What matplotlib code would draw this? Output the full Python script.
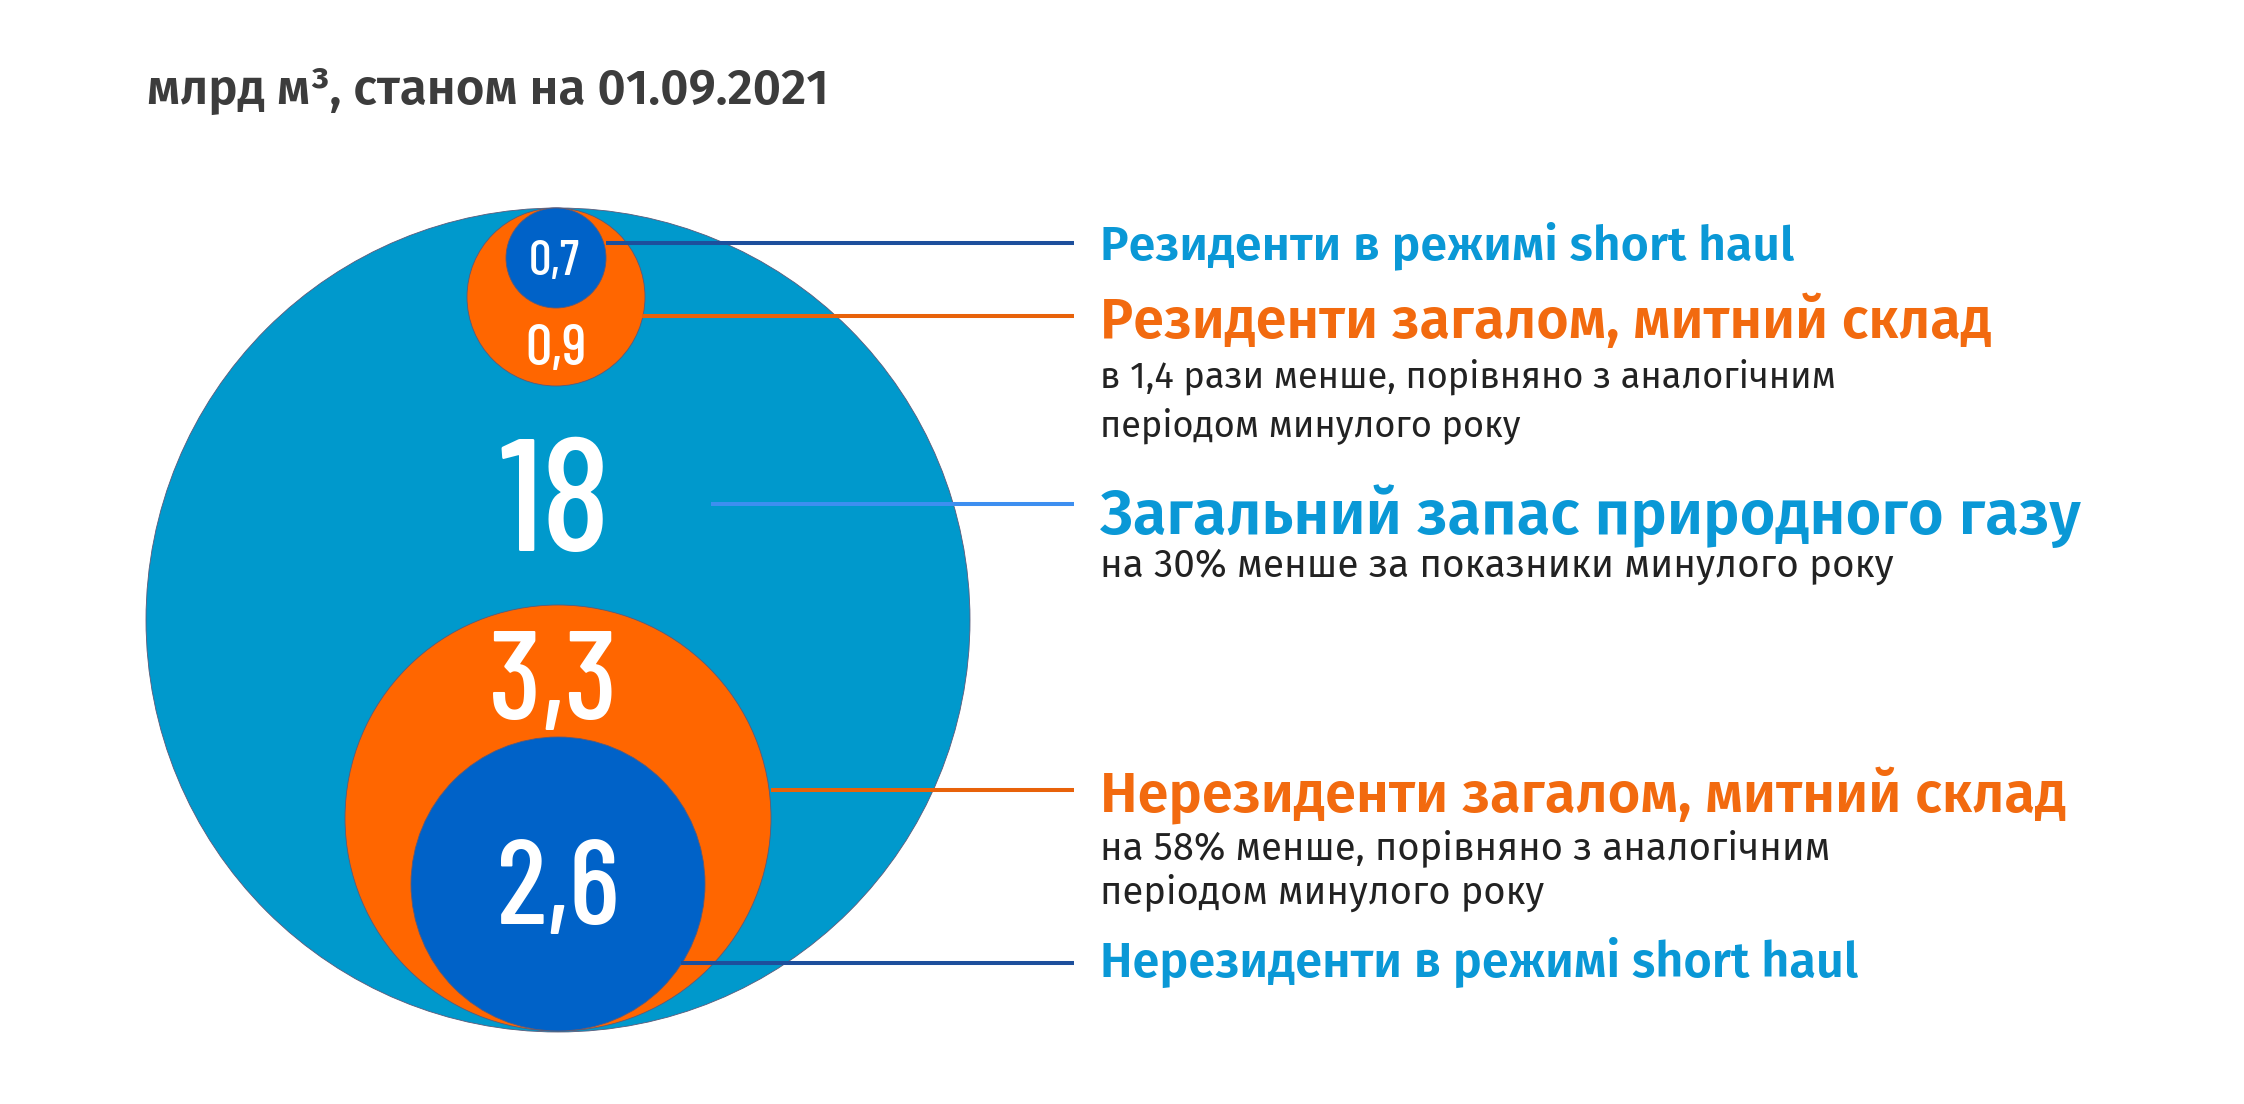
import matplotlib
matplotlib.use("Agg")
import matplotlib.pyplot as plt
from matplotlib.patches import Circle

# =========================
# data
# =========================
title = "млрд м³, станом на 01.09.2021"

values = [0.7, 0.9, 18, 3.3, 2.6]
value_labels = ["0,7", "0,9", "18", "3,3", "2,6"]

headings = [
    "Резиденти в режимі short haul",
    "Резиденти загалом, митний склад",
    "Загальний запас природного газу",
    "Нерезиденти загалом, митний склад",
    "Нерезиденти в режимі short haul",
]

notes = [
    [],
    ["в 1,4 рази менше, порівняно з аналогічним", "періодом минулого року"],
    ["на 30% менше за показники минулого року"],
    ["на 58% менше, порівняно з аналогічним", "періодом минулого року"],
    [],
]

# =========================
# layout (pixels, y down)
# =========================
W, H = 2244, 1104
centers = [(556, 258), (556, 297), (558, 620), (558, 818), (558, 884)]
radii = [50, 89, 412, 213, 147]
fills = ["#0062c8", "#ff6600", "#0099cc", "#ff6600", "#0062c8"]

num_pos = [(554, 275), (556, 365), (555, 551), (553, 719), (558, 924)]
num_size = [36, 42, 115, 90, 86]

line_y = [243, 316, 504, 790, 963]
line_x0 = [606, 642, 711, 771, 681]
line_x1 = 1074
line_colors = ["#1d4f9c", "#e8620a", "#3d8ff0", "#e8620a", "#1d4f9c"]

text_x = 1100
head_base = [259, 338, 534, 811, 977]
head_width = [693, 890, 979, 966, 758]
head_colors = ["#0a98d6", "#f26a0f", "#0a98d6", "#f26a0f", "#0a98d6"]
note_base = [[], [388, 436], [577], [859, 904], []]
note_width = [[], [737, 0], [793], [730, 0], []]

NUM_FONT = ["Barlow Condensed", "DejaVu Sans"]
TXT_FONT = ["Fira Sans", "DejaVu Sans"]

fig = plt.figure(figsize=(W / 100, H / 100), dpi=100)
ax = fig.add_axes([0, 0, 1, 1])
ax.set_xlim(0, W)
ax.set_ylim(H, 0)
ax.axis("off")

renderer = fig.canvas.get_renderer()


def fit(t, target):
    w = t.get_window_extent(renderer).width
    t.set_fontsize(t.get_fontsize() * target / w)


# circles, biggest first
order = sorted(range(len(values)), key=lambda i: -radii[i])
for z, i in enumerate(order):
    ax.add_patch(Circle(centers[i], radii[i], facecolor=fills[i],
                        edgecolor="#5a5a7a", linewidth=0.6, zorder=1 + z))
    ax.text(num_pos[i][0], num_pos[i][1], value_labels[i], color="white",
            fontsize=num_size[i], fontfamily=NUM_FONT, fontweight="medium",
            ha="center", va="baseline", zorder=10)

# leader lines
for i in range(len(values)):
    ax.plot([line_x0[i], line_x1], [line_y[i], line_y[i]], color=line_colors[i],
            linewidth=2.9, solid_capstyle="butt", zorder=20)

# labels
for i in range(len(headings)):
    t = ax.text(text_x, head_base[i], headings[i], color=head_colors[i],
                fontsize=30, fontweight="semibold", fontfamily=TXT_FONT, va="baseline")
    fit(t, head_width[i])
    for j, line in enumerate(notes[i]):
        n = ax.text(text_x, note_base[i][j], line, color="#222222",
                    fontsize=22, fontfamily=TXT_FONT, va="baseline")
        if note_width[i][j]:
            fit(n, note_width[i][j])
            note_size = n.get_fontsize()
        else:
            n.set_fontsize(note_size)

t = ax.text(147, 104, title, color="#3c3c3c", fontsize=30, fontweight="semibold",
            fontfamily=TXT_FONT, va="baseline")
fit(t, 680)

fig.savefig("out.png", dpi=100)
